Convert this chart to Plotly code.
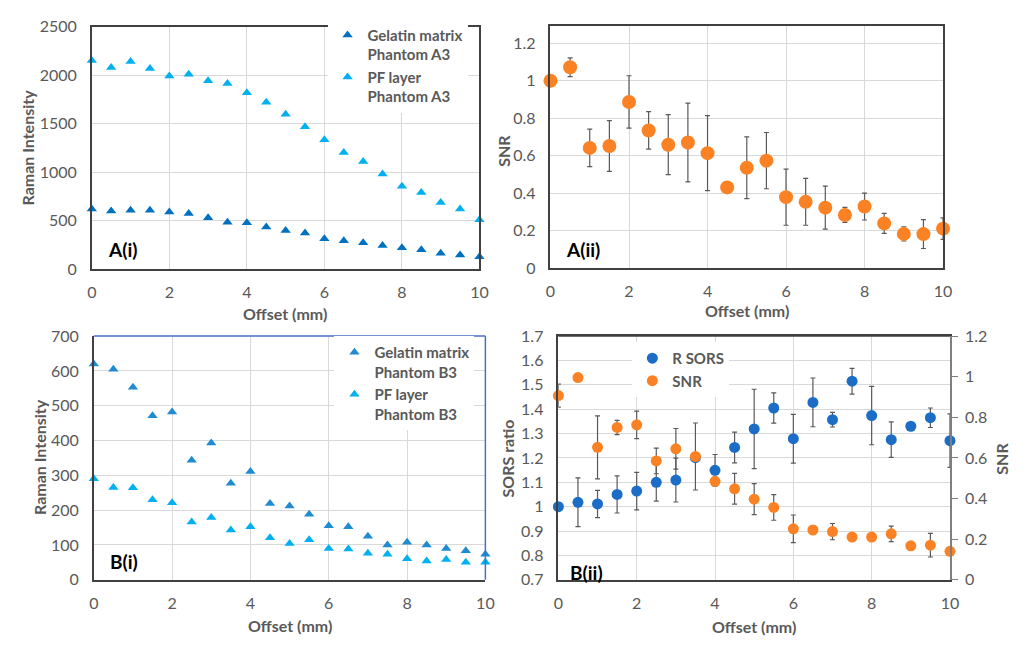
import plotly.graph_objects as go

W, H = 1030, 646

# ---------------- data ----------------
offset_mm = [0, 0.5, 1, 1.5, 2, 2.5, 3, 3.5, 4, 4.5, 5, 5.5, 6, 6.5, 7, 7.5, 8, 8.5, 9, 9.5, 10]

a3_gelatin = [620, 600, 607, 607, 590, 573, 530, 483, 477, 433, 397, 373, 313, 293, 273, 243, 220, 200, 163, 147, 127]
a3_pf = [2150, 2077, 2140, 2067, 1990, 2007, 1940, 1913, 1817, 1720, 1597, 1467, 1333, 1203, 1110, 980, 853, 790, 687, 620, 510]

a_snr = [1.0, 1.072, 0.642, 0.652, 0.887, 0.735, 0.659, 0.671, 0.614, 0.431, 0.536, 0.574, 0.379, 0.354, 0.323, 0.284, 0.329, 0.239, 0.183, 0.182, 0.211]
a_snr_err = [0, 0.05, 0.1, 0.135, 0.14, 0.1, 0.16, 0.21, 0.2, 0, 0.165, 0.15, 0.15, 0.125, 0.115, 0.04, 0.072, 0.053, 0.038, 0.077, 0.057]

b3_gelatin = [620, 605, 553, 471, 482, 343, 393, 277, 311, 219, 212, 188, 155, 152, 125, 100, 108, 100, 90, 83, 73]
b3_pf = [290, 265, 264, 230, 221, 166, 179, 143, 152, 121, 104, 115, 90, 88, 76, 73, 60, 54, 58, 50, 50]

b_sors = [1.0, 1.018, 1.011, 1.050, 1.064, 1.100, 1.109, 1.201, 1.149, 1.243, 1.319, 1.405, 1.279, 1.428, 1.357, 1.515, 1.374, 1.275, 1.330, 1.365, 1.271]
b_sors_err = [0, 0.1, 0.056, 0.076, 0.077, 0.077, 0.09, 0, 0.065, 0.063, 0.163, 0.062, 0.1, 0.1, 0.03, 0.053, 0.12, 0.073, 0, 0.04, 0.11]
b_snr = [0.907, 0.996, 0.652, 0.750, 0.763, 0.585, 0.645, 0.607, 0.485, 0.448, 0.397, 0.356, 0.251, 0.245, 0.237, 0.210, 0.210, 0.226, 0.167, 0.170, 0.140]
b_snr_err = [0.057, 0, 0.155, 0.035, 0.068, 0.063, 0.1, 0.165, 0.02, 0.076, 0.076, 0.063, 0.068, 0.02, 0.04, 0, 0.01, 0.038, 0, 0.058, 0]

# ---------------- styles ----------------
FONT = "Lato"
TICK_C = "#595959"
GRID_C = "#D9D9D9"
FRAME_C = "#404040"
DARK_BLUE = "#0070C0"
LIGHT_BLUE = "#00B0F0"
MID_BLUE = "#1F8BD0"
ORANGE = "#FB8224"
SORS_BLUE = "#1B6DC6"
ERR_C = "#595959"


def px(x):
    return x / W


def py(y):
    return 1 - y / H


fig = go.Figure()

# A(i)
fig.add_trace(go.Scatter(x=offset_mm, y=a3_gelatin, mode="markers", name="Gelatin matrix<br>Phantom A3",
                         marker=dict(symbol="triangle-up", size=9, color=DARK_BLUE),
                         xaxis="x", yaxis="y", legend="legend", cliponaxis=False))
fig.add_trace(go.Scatter(x=offset_mm, y=a3_pf, mode="markers", name="PF layer<br>Phantom A3",
                         marker=dict(symbol="triangle-up", size=9, color=LIGHT_BLUE),
                         xaxis="x", yaxis="y", legend="legend", cliponaxis=False))

# A(ii)
fig.add_trace(go.Scatter(x=offset_mm, y=a_snr, mode="markers", name="SNR", showlegend=False,
                         marker=dict(symbol="circle", size=14, color=ORANGE),
                         error_y=dict(type="data", array=a_snr_err, color=ERR_C, thickness=1.2, width=2.5),
                         xaxis="x2", yaxis="y2", cliponaxis=False))

# B(i)
fig.add_trace(go.Scatter(x=offset_mm, y=b3_gelatin, mode="markers", name="Gelatin matrix<br>Phantom B3",
                         marker=dict(symbol="triangle-up", size=9, color=MID_BLUE),
                         xaxis="x3", yaxis="y3", legend="legend2", cliponaxis=False))
fig.add_trace(go.Scatter(x=offset_mm, y=b3_pf, mode="markers", name="PF layer<br>Phantom B3",
                         marker=dict(symbol="triangle-up", size=9, color=LIGHT_BLUE),
                         xaxis="x3", yaxis="y3", legend="legend2", cliponaxis=False))

# B(ii)
fig.add_trace(go.Scatter(x=offset_mm, y=b_sors, mode="markers", name="R SORS",
                         marker=dict(symbol="circle", size=11, color=SORS_BLUE),
                         error_y=dict(type="data", array=b_sors_err, color=ERR_C, thickness=1.2, width=2.5),
                         xaxis="x4", yaxis="y4", legend="legend3", cliponaxis=False))
fig.add_trace(go.Scatter(x=offset_mm, y=b_snr, mode="markers", name="SNR",
                         marker=dict(symbol="circle", size=11, color=ORANGE),
                         error_y=dict(type="data", array=b_snr_err, color=ERR_C, thickness=1.2, width=2.5),
                         xaxis="x4", yaxis="y5", legend="legend3", cliponaxis=False))

tickfont = dict(family=FONT, size=16, color=TICK_C)


def xax(domain, anchor, linecolor=FRAME_C, mirror=True):
    return dict(domain=domain, anchor=anchor, range=[0, 10], dtick=2, tick0=0,
                showgrid=True, gridcolor=GRID_C, gridwidth=1, zeroline=False,
                showline=True, linecolor=linecolor, linewidth=1.5, mirror=mirror,
                ticks="", ticklabelstandoff=8, tickfont=tickfont, fixedrange=True)


def yax(domain, anchor, rng, dtick, mirror=True, linecolor=FRAME_C):
    return dict(domain=domain, anchor=anchor, range=rng, dtick=dtick, tick0=0,
                showgrid=True, gridcolor=GRID_C, gridwidth=1, zeroline=False,
                showline=True, linecolor=linecolor, linewidth=1.5, mirror=mirror,
                ticks="", ticklabelstandoff=10, tickfont=tickfont, fixedrange=True)


legend_font = dict(family=FONT, size=15, color=TICK_C, weight="bold")

fig.update_layout(
    width=W, height=H, margin=dict(l=0, r=0, t=0, b=0),
    paper_bgcolor="white", plot_bgcolor="white",
    font=dict(family=FONT, color=TICK_C),
    xaxis=xax([px(88), px(481)], "y"),
    yaxis=yax([py(267), py(17)], "x", [0, 2500], 500),
    xaxis2=xax([px(553), px(951)], "y2"),
    yaxis2=yax([py(266), py(16)], "x2", [0, 1.295], 0.2),
    xaxis3=xax([px(90), px(487)], "y3", mirror=False),
    yaxis3=yax([py(587), py(336)], "x3", [0, 700], 100, mirror=False),
    xaxis4=xax([px(561), px(958)], "y4"),
    yaxis4=yax([py(587), py(336)], "x4", [0.7, 1.7], 0.1, mirror=False),
    yaxis5=dict(overlaying="y4", anchor="x4", side="right", range=[0, 1.2], dtick=0.2, tick0=0,
                showgrid=False, zeroline=False, showline=True, linecolor="#7F7F7F", linewidth=1.5,
                ticks="outside", ticklen=6, tickcolor="#7F7F7F", tickwidth=1.2,
                ticklabelstandoff=4, tickfont=tickfont, fixedrange=True),
    legend=dict(x=px(327), y=py(9), xanchor="left", yanchor="top", bgcolor="white",
                font=legend_font, valign="top", itemwidth=30, tracegroupgap=0, borderwidth=0),
    legend2=dict(x=px(334), y=py(336), xanchor="left", yanchor="top", bgcolor="white",
                 font=legend_font, valign="top", itemwidth=30, tracegroupgap=0, borderwidth=0),
    legend3=dict(x=px(636), y=py(342), xanchor="left", yanchor="top", bgcolor="white",
                 font=legend_font, itemwidth=30, tracegroupgap=0, borderwidth=0),
)

# blue top/right border of panel B(i)
fig.add_shape(type="line", xref="x3 domain", yref="y3 domain", x0=0, x1=1, y0=1, y1=1,
              line=dict(color="#4472C4", width=1.5))
fig.add_shape(type="line", xref="x3 domain", yref="y3 domain", x0=1, x1=1, y0=0, y1=1,
              line=dict(color="#4472C4", width=1.5))
# top border of B(ii)
fig.add_shape(type="line", xref="x4 domain", yref="y4 domain", x0=0, x1=1, y0=1, y1=1,
              line=dict(color=FRAME_C, width=1.5))

title_font = dict(family=FONT, size=16, color=TICK_C, weight="bold")
label_font = dict(family=FONT, size=19, color="black", weight="bold")


def ann(text, x, y, font, angle=0):
    fig.add_annotation(text=text, x=px(x), y=py(y), xref="paper", yref="paper",
                       showarrow=False, textangle=angle, font=font,
                       xanchor="center", yanchor="middle")


ann("Raman Intensity", 23, 142, title_font, -90)
ann("Offset (mm)", 284, 313, title_font)
ann("SNR", 506, 145, title_font, -90)
ann("Offset (mm)", 752, 310, title_font)
ann("Raman Intensity", 35, 461, title_font, -90)
ann("Offset (mm)", 289, 634, title_font)
ann("SORS ratio", 509, 462, title_font, -90)
ann("SNR", 1010, 462, title_font, -90)
ann("Offset (mm)", 759, 635, title_font)

ann("A(i)", 119, 247, label_font)
ann("A(ii)", 586, 247, label_font)
ann("B(i)", 121, 568, label_font)
ann("B(ii)", 590, 580, label_font)

fig.write_html("out.html")
